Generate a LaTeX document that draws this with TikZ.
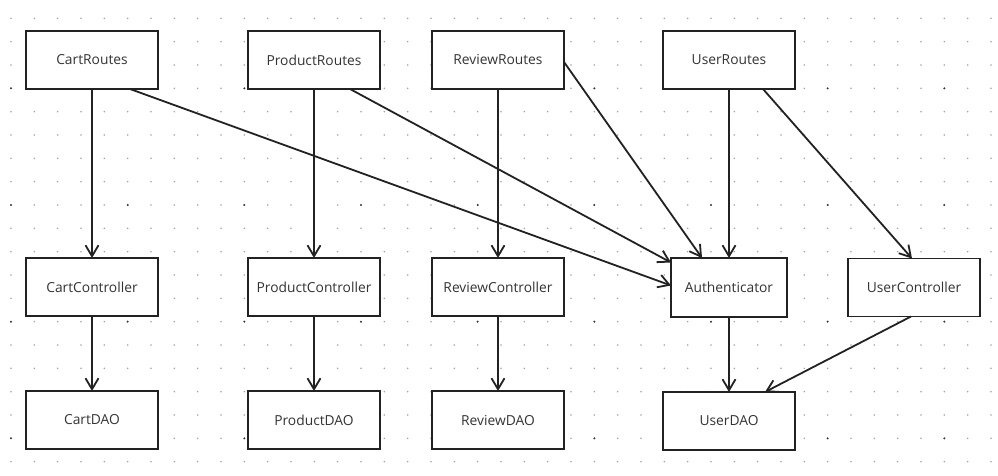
\documentclass[tikz,border=0pt]{standalone}
\usepackage{fontspec}
\setmainfont{Open Sans}
\usetikzlibrary{arrows.meta,positioning}
\definecolor{labelgrey}{HTML}{333333}
\definecolor{edgegrey}{HTML}{222222}
\tikzset{%
  module/.style={rectangle,draw=edgegrey,fill=white,line width=1.7pt,outer sep=0pt,minimum width=132pt,minimum height=58pt,inner sep=2pt,text=labelgrey,font=\fontsize{13.8}{16}\selectfont},
  guard/.style={module,minimum width=116pt,minimum height=59pt},
  dep/.style={draw=edgegrey,line width=1.8pt,-{Straight Barb[length=11pt,width=13pt]}},
  griddot/.style={fill=black!35},
  majordot/.style={fill=black!80}%
}
\begin{document}
\begin{tikzpicture}[x=1pt,y=-1pt]
  \useasboundingbox[fill=white] (0,0) rectangle (998,476);
  % dotted canvas
  \foreach \i in {0,...,42} {
    \foreach \j in {0,...,19} {
      \pgfmathtruncatemacro{\mi}{mod(\i,5)}
      \pgfmathtruncatemacro{\mj}{mod(\j,5)}
      \ifnum\mi=0 \ifnum\mj=3
        \fill[majordot] (11+23.333*\i,18.333+23.333*\j) circle (1.1pt);
      \else
        \fill[griddot] (11+23.333*\i,18.333+23.333*\j) circle (0.85pt);
      \fi\else
        \fill[griddot] (11+23.333*\i,18.333+23.333*\j) circle (0.85pt);
      \fi
    }
  }

  \node (cartroutes) [module] at (92,60) {CartRoutes};
  \node (productroutes) [module, right=90pt of cartroutes] {ProductRoutes};
  \node (reviewroutes) [module, right=52pt of productroutes] {ReviewRoutes};
  \node (userroutes) [module, right=99pt of reviewroutes] {UserRoutes};

  \node (cartcontroller) [module, below=169pt of cartroutes] {CartController};
  \node (productcontroller) [module, below=169pt of productroutes] {ProductController};
  \node (reviewcontroller) [module, below=169pt of reviewroutes] {ReviewController};
  \node (authenticator) [guard, below=169pt of userroutes] {Authenticator};
  \node (usercontroller) [module, right=61pt of authenticator] {UserController};

  \node (cartdao) [module, below=75pt of cartcontroller] {CartDAO};
  \node (productdao) [module, below=75pt of productcontroller] {ProductDAO};
  \node (reviewdao) [module, below=75pt of reviewcontroller] {ReviewDAO};
  \node (userdao) [module, below=75pt of authenticator] {UserDAO};

  \path (cartroutes) edge[dep] (cartcontroller)
        (productroutes) edge[dep] (productcontroller)
        (reviewroutes) edge[dep] (reviewcontroller)
        (userroutes.south) edge[dep] (userroutes.south |- authenticator.north);
  \path ([xshift=38pt]cartroutes.south) edge[dep] ([yshift=2pt]authenticator.west)
        ([xshift=36pt]productroutes.south) edge[dep] ([yshift=25pt]authenticator.west)
        ([yshift=-2pt]reviewroutes.east) edge[dep] ([xshift=-27pt]authenticator.north)
        ([xshift=34pt]userroutes.south) edge[dep] ([xshift=-2pt]usercontroller.north);
  \path (cartcontroller) edge[dep] (cartdao)
        (productcontroller) edge[dep] (productdao)
        (reviewcontroller) edge[dep] (reviewdao)
        (authenticator) edge[dep] (userdao)
        ([xshift=-3pt]usercontroller.south) edge[dep] ([xshift=36pt]userdao.north);

\end{tikzpicture}
\end{document}
